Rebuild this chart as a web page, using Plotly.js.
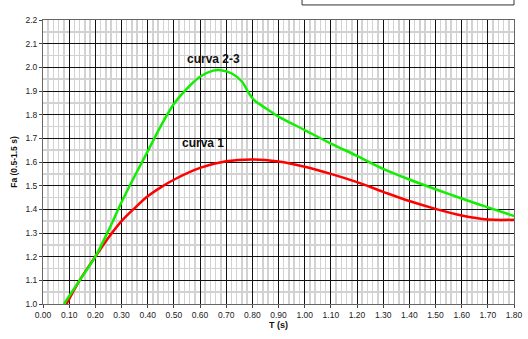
<!DOCTYPE html>
<html>
<head>
<meta charset="utf-8">
<script src="https://cdn.plot.ly/plotly-3.0.1.min.js"></script>
<style>html,body{margin:0;padding:0;background:#fff;}#chart{width:528px;height:339px;}</style>
</head>
<body>
<div id="chart"></div>
<script>
var curva1T  = [0.09, 0.14, 0.20, 0.25, 0.30, 0.35, 0.40, 0.45, 0.50, 0.60, 0.70, 0.80, 0.90, 1.00, 1.10, 1.20, 1.30, 1.40, 1.50, 1.60, 1.70, 1.80];
var curva1Fa = [1.00, 1.10, 1.20, 1.28, 1.35, 1.405, 1.455, 1.493, 1.525, 1.575, 1.603, 1.611, 1.602, 1.58, 1.55, 1.515, 1.474, 1.435, 1.402, 1.374, 1.357, 1.356];

var curva23T  = [0.08, 0.14, 0.20, 0.25, 0.30, 0.35, 0.40, 0.45, 0.50, 0.55, 0.60, 0.65, 0.68, 0.72, 0.76, 0.79, 0.81, 0.85, 0.90, 1.00, 1.10, 1.20, 1.30, 1.40, 1.50, 1.60, 1.70, 1.80];
var curva23Fa = [1.00, 1.10, 1.20, 1.31, 1.43, 1.54, 1.645, 1.752, 1.845, 1.91, 1.96, 1.986, 1.988, 1.975, 1.94, 1.885, 1.858, 1.828, 1.792, 1.735, 1.678, 1.626, 1.571, 1.526, 1.485, 1.446, 1.408, 1.372];

var labels = ["curva 2-3", "curva 1"];
var labelT = [0.65, 0.61];
var labelFa = [2.035, 1.68];

var xTitle = "T (s)";
var yTitle = "Fa (0.5-1.5 s)";

var traces = [
  {x: curva1T, y: curva1Fa, type: 'scatter', mode: 'lines', line: {color: '#ff0000', width: 2.5, shape: 'spline', smoothing: 1}, name: 'curva 1'},
  {x: curva23T, y: curva23Fa, type: 'scatter', mode: 'lines', line: {color: '#11ee00', width: 2.5, shape: 'spline', smoothing: 0.8}, name: 'curva 2-3'}
];

var layout = {
  width: 528, height: 339,
  margin: {l: 43, r: 14, t: 20, b: 35},
  paper_bgcolor: '#fff', plot_bgcolor: '#fff',
  showlegend: false,
  font: {family: 'Liberation Sans, Arial, sans-serif', size: 8, color: '#222'},
  xaxis: {
    range: [0, 1.8], dtick: 0.1, tick0: 0, tickformat: '.2f',
    showgrid: true, gridcolor: '#111', gridwidth: 1,
    minor: {dtick: 0.02, showgrid: true, gridcolor: '#d2d2d2', gridwidth: 1.5},
    ticks: 'outside', ticklen: 3, tickcolor: '#444',
    showline: true, linecolor: '#666', linewidth: 1, mirror: true,
    zeroline: false,
    tickfont: {size: 8.5, color: '#222'},
    title: {text: xTitle, font: {size: 9, color: '#111', weight: 'bold'}, standoff: 2}
  },
  yaxis: {
    range: [1.0, 2.2], dtick: 0.1, tick0: 1.0, tickformat: '.1f',
    showgrid: true, gridcolor: '#111', gridwidth: 1,
    minor: {dtick: 0.05, showgrid: true, gridcolor: '#d2d2d2', gridwidth: 1.5},
    ticks: 'outside', ticklen: 3, tickcolor: '#444',
    showline: true, linecolor: '#666', linewidth: 1, mirror: true,
    zeroline: false,
    tickfont: {size: 8.5, color: '#222'},
    title: {text: yTitle, font: {size: 8.5, color: '#111', weight: 'bold'}, standoff: 6}
  },
  annotations: labels.map(function(t, i) {
    return {x: labelT[i], y: labelFa[i], xref: 'x', yref: 'y', text: t, showarrow: false,
            font: {size: 12, color: '#111', weight: 'bold', family: 'Liberation Sans, Arial, sans-serif'}};
  }),
  shapes: [
    {type: 'rect', xref: 'paper', yref: 'paper', x0: 0.55, x1: 1.0, y0: 1.053, y1: 1.2,
     line: {color: '#333', width: 1}, fillcolor: '#fff'}
  ]
};

Plotly.newPlot('chart', traces, layout, {displayModeBar: false, staticPlot: true});
</script>
</body>
</html>
